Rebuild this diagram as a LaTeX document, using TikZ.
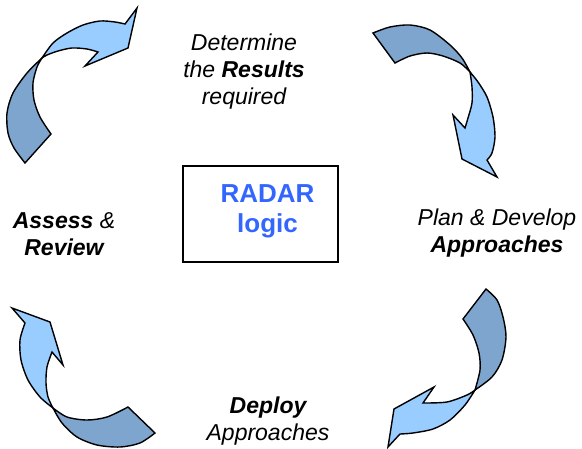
\documentclass[tikz,border=0pt]{standalone}
\usepackage{fontspec}
\setmainfont{Liberation Sans}
\begin{document}
\begin{tikzpicture}[x=1pt,y=-1pt,
  front/.style={fill=lightblue,draw=black,line width=1.4pt},
  back/.style={fill=darkblue,draw=black,line width=1.4pt},
  lbl/.style={anchor=base,inner sep=0pt,font=\fontsize{23}{27}\selectfont\itshape},
  logo/.style={anchor=base,inner sep=0pt,text=radarblue,font=\fontsize{26}{30}\selectfont\bfseries},
  frame/.style={draw=black,line width=1.5pt,minimum width=155pt,minimum height=96pt,inner sep=0pt}]
\definecolor{lightblue}{HTML}{99CCFF}
\definecolor{darkblue}{HTML}{7DA5CE}
\definecolor{radarblue}{HTML}{3366FF}
\useasboundingbox (0,0) rectangle (582,448);

% top-left arrow
\path[back] (25,163) -- (51,134)
  -- plot[smooth] coordinates {(51,134) (40,117) (34,100) (33,83) (37,67) (42,58)}
  -- plot[smooth] coordinates {(42,58) (27,73) (13,93) (7,113) (8,133) (14,148) (25,163)} -- cycle;
\path[front] (42,58)
  -- plot[smooth] coordinates {(42,58) (53,43) (67,33) (83,25) (100,21) (115,22) (125,24)}
  -- (137,8) -- (128,48) -- (85,66) -- (98,52)
  -- plot[smooth] coordinates {(98,52) (87,49) (72,48) (58,51) (47,55) (42,58)} -- cycle;

% top-right arrow
\path[back] (373,33) -- (395,63)
  -- plot[smooth] coordinates {(395,63) (410,56) (427,53) (443,56) (460,63) (470,72)}
  -- plot[smooth] coordinates {(470,72) (462,58) (450,45) (430,30) (410,25) (390,27) (373,33)} -- cycle;
\path[front] (470,72)
  -- plot[smooth] coordinates {(470,72) (478,82) (487,97) (493,117) (495,137) (492,153) (487,160)}
  -- (497,177) -- (462,159) -- (453,115) -- (465,128)
  -- plot[smooth] coordinates {(465,128) (468,118) (472,103) (472,87) (470,72)} -- cycle;

% bottom-right arrow
\path[back] (486,289) -- (463,319)
  -- plot[smooth] coordinates {(463,319) (473,335) (479,353) (480,370) (475,390)}
  -- plot[smooth] coordinates {(475,390) (492,377) (502,360) (506,337) (503,317) (497,300) (486,289)} -- cycle;
\path[front] (475,390)
  -- plot[smooth] coordinates {(475,390) (465,405) (450,420) (433,429) (413,433) (400,434)}
  -- (388,447) -- (394,409) -- (434,387) -- (423,403)
  -- plot[smooth] coordinates {(423,403) (447,402) (467,395) (475,390)} -- cycle;

% bottom-left arrow
\path[front] (12,308) -- (50,322) -- (63,365) -- (52,352)
  -- plot[smooth] coordinates {(52,352) (47,367) (46,383) (48,397) (53,408)}
  -- plot[smooth] coordinates {(53,408) (40,397) (28,380) (21,360) (20,340) (25,323)} -- cycle;
\path[back] (53,408)
  -- plot[smooth] coordinates {(53,408) (67,417) (87,420) (107,417) (128,407)}
  -- (155,433)
  -- plot[smooth] coordinates {(155,433) (140,443) (120,447) (97,445) (77,437) (62,423) (53,408)} -- cycle;

% central box
\node[frame] (box) at (260.5,214) {};
\node[logo] (radar) at (267.5,202) {RADAR};
\node[logo] (logic) at (267.5,232) {logic};

% stage labels
\node[lbl] (res1) at (244,50) {Determine};
\node[lbl] (res2) at (244,77) {the \textbf{Results}};
\node[lbl] (res3) at (244,104) {required};
\node[lbl] (plan1) at (497,225) {Plan \& Develop};
\node[lbl] (plan2) at (497,252) {\textbf{Approaches}};
\node[lbl] (dep1) at (268,413) {\textbf{Deploy}};
\node[lbl] (dep2) at (268,440) {Approaches};
\node[lbl] (ass1) at (64,228) {\textbf{Assess} \&};
\node[lbl] (ass2) at (64,255) {\textbf{Review}};
\end{tikzpicture}
\end{document}
